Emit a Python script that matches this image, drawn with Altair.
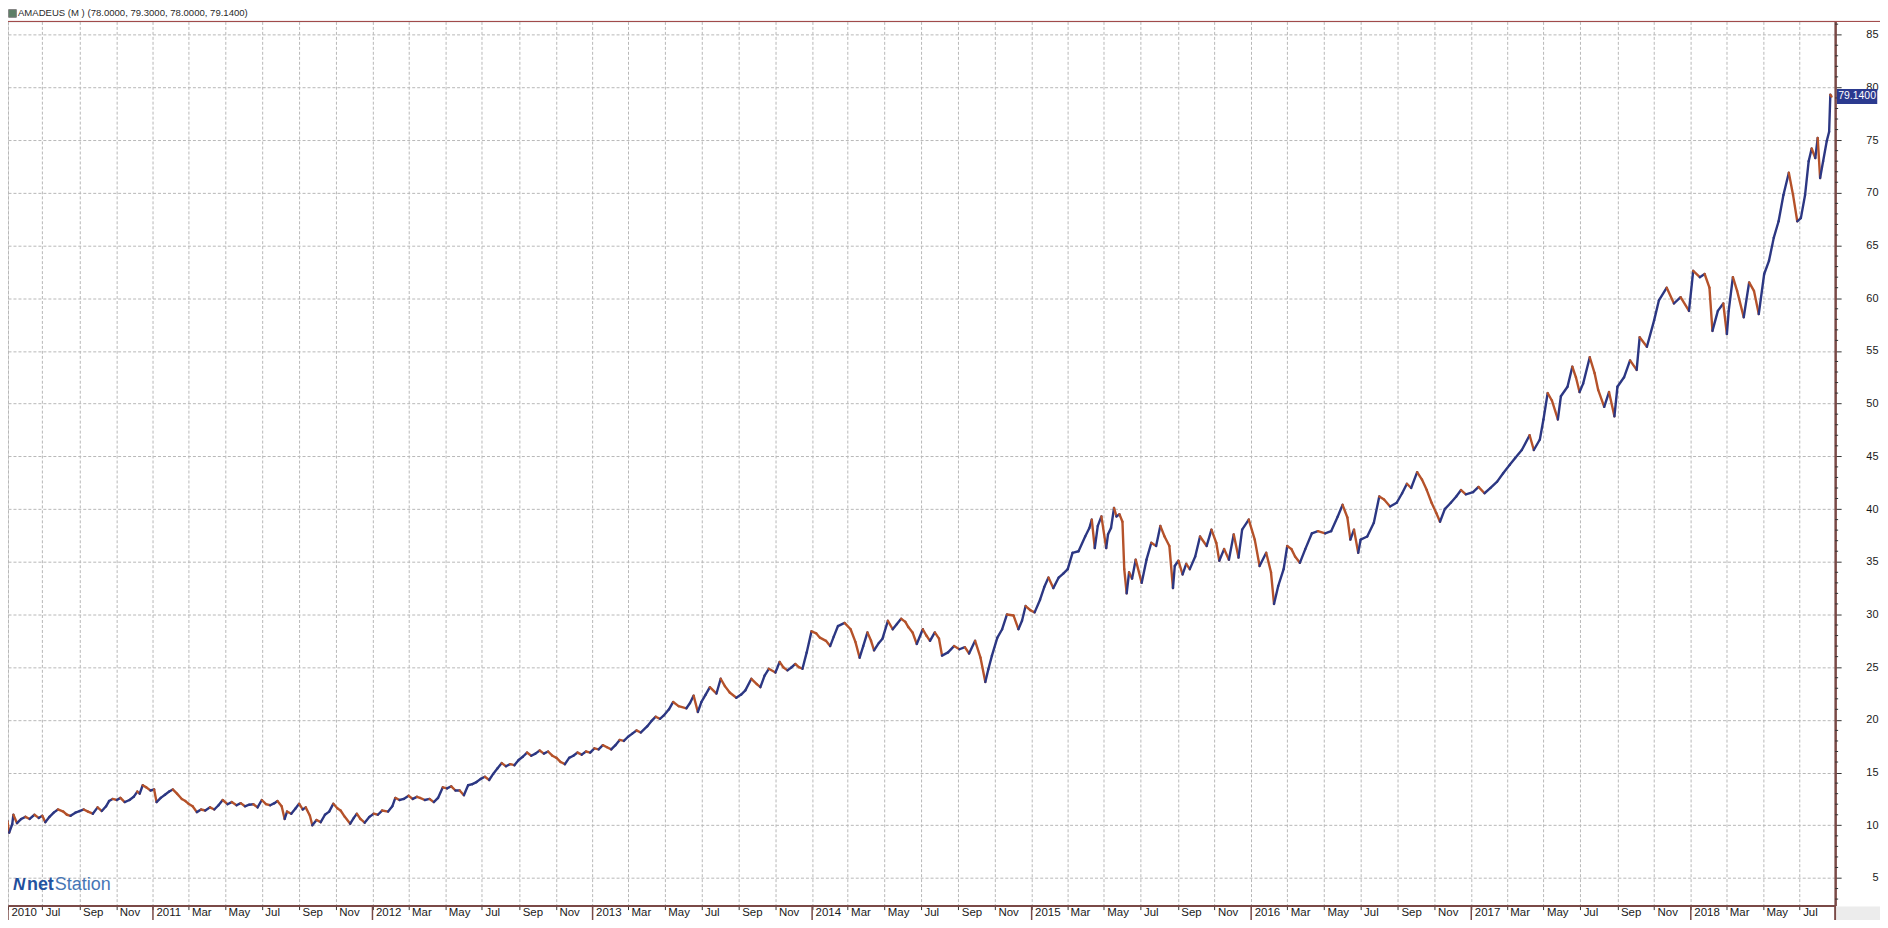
import altair as alt
import pandas as pd

# ---------------- data ----------------
dates = [
    "2010-04-29", "2010-05-04", "2010-05-07", "2010-05-12", "2010-05-14", "2010-05-20", "2010-05-27",
    "2010-06-03", "2010-06-10", "2010-06-18", "2010-06-25", "2010-07-01", "2010-07-06", "2010-07-13",
    "2010-07-20", "2010-07-27", "2010-08-05", "2010-08-11", "2010-08-17", "2010-08-25", "2010-09-01",
    "2010-09-08", "2010-09-15", "2010-09-23", "2010-10-01", "2010-10-08", "2010-10-15", "2010-10-20",
    "2010-10-26", "2010-11-02", "2010-11-08", "2010-11-15", "2010-11-23", "2010-11-30", "2010-12-06",
    "2010-12-10", "2010-12-15", "2010-12-21", "2010-12-28",
    "2011-01-03", "2011-01-07", "2011-01-14", "2011-01-21", "2011-01-28", "2011-02-03", "2011-02-10",
    "2011-02-18", "2011-02-24", "2011-03-01", "2011-03-08", "2011-03-15", "2011-03-22", "2011-03-29",
    "2011-04-06", "2011-04-13", "2011-04-20", "2011-04-27", "2011-05-05", "2011-05-12", "2011-05-20",
    "2011-05-27", "2011-06-03", "2011-06-10", "2011-06-17", "2011-06-24", "2011-07-01", "2011-07-08",
    "2011-07-15", "2011-07-22", "2011-07-27", "2011-08-03", "2011-08-08", "2011-08-12", "2011-08-19",
    "2011-08-26", "2011-09-01", "2011-09-07", "2011-09-12", "2011-09-19", "2011-09-23", "2011-09-30",
    "2011-10-07", "2011-10-14", "2011-10-21", "2011-10-28", "2011-11-04", "2011-11-09", "2011-11-16",
    "2011-11-25", "2011-12-01", "2011-12-06", "2011-12-12", "2011-12-19", "2011-12-27",
    "2012-01-03", "2012-01-10", "2012-01-17", "2012-01-27", "2012-02-03", "2012-02-08", "2012-02-15",
    "2012-02-22", "2012-03-01", "2012-03-08", "2012-03-15", "2012-03-20", "2012-03-28", "2012-04-05",
    "2012-04-12", "2012-04-19", "2012-04-27", "2012-05-04", "2012-05-11", "2012-05-18", "2012-05-25",
    "2012-06-01", "2012-06-08", "2012-06-15", "2012-06-22", "2012-06-29", "2012-07-06", "2012-07-13",
    "2012-07-20", "2012-07-27", "2012-08-03", "2012-08-10", "2012-08-17", "2012-08-24", "2012-08-31",
    "2012-09-07", "2012-09-14", "2012-09-21", "2012-09-28", "2012-10-05", "2012-10-12", "2012-10-19",
    "2012-10-26", "2012-11-02", "2012-11-09", "2012-11-16", "2012-11-23", "2012-11-30", "2012-12-07",
    "2012-12-14", "2012-12-21", "2012-12-28",
    "2013-01-04", "2013-01-11", "2013-01-18", "2013-01-25", "2013-02-01", "2013-02-08", "2013-02-15",
    "2013-02-22", "2013-03-01", "2013-03-08", "2013-03-15", "2013-03-22", "2013-04-02", "2013-04-09",
    "2013-04-16", "2013-04-23", "2013-04-29", "2013-05-08", "2013-05-15", "2013-05-24", "2013-06-06",
    "2013-06-12", "2013-06-18", "2013-06-25", "2013-07-01", "2013-07-08", "2013-07-15", "2013-07-26",
    "2013-08-02", "2013-08-09", "2013-08-17", "2013-08-28", "2013-09-05", "2013-09-12", "2013-09-22",
    "2013-10-01", "2013-10-07", "2013-10-14", "2013-10-21", "2013-11-01", "2013-11-08", "2013-11-14",
    "2013-11-21", "2013-11-28", "2013-12-04", "2013-12-10", "2013-12-16", "2013-12-23", "2013-12-31",
    "2014-01-08", "2014-01-14", "2014-01-24", "2014-01-31", "2014-02-06", "2014-02-13", "2014-02-24",
    "2014-03-06", "2014-03-14", "2014-03-21", "2014-03-27", "2014-04-03", "2014-04-09", "2014-04-14",
    "2014-04-22", "2014-04-28", "2014-05-07", "2014-05-15", "2014-05-22", "2014-05-29", "2014-06-05",
    "2014-06-10", "2014-06-17", "2014-06-24", "2014-07-04", "2014-07-10", "2014-07-16", "2014-07-24",
    "2014-07-31", "2014-08-05", "2014-08-15", "2014-08-25", "2014-09-03", "2014-09-12", "2014-09-19",
    "2014-09-29", "2014-10-08", "2014-10-16", "2014-10-21", "2014-10-27", "2014-11-05", "2014-11-13",
    "2014-11-21", "2014-12-02", "2014-12-10", "2014-12-16", "2014-12-22", "2014-12-30",
    "2015-01-06", "2015-01-15", "2015-01-22", "2015-01-29", "2015-02-06", "2015-02-15", "2015-02-23",
    "2015-03-02", "2015-03-10", "2015-03-20", "2015-03-31", "2015-04-07", "2015-04-11", "2015-04-16",
    "2015-04-21", "2015-04-27", "2015-05-05", "2015-05-08", "2015-05-13", "2015-05-18", "2015-05-22",
    "2015-05-27", "2015-06-01", "2015-06-04", "2015-06-08", "2015-06-12", "2015-06-17", "2015-06-23",
    "2015-07-03", "2015-07-11", "2015-07-19", "2015-07-27", "2015-08-03", "2015-08-10", "2015-08-18",
    "2015-08-24", "2015-08-27", "2015-09-02", "2015-09-09", "2015-09-15", "2015-09-21", "2015-09-30",
    "2015-10-08", "2015-10-19", "2015-10-27", "2015-11-04", "2015-11-09", "2015-11-17", "2015-11-25",
    "2015-12-03", "2015-12-11", "2015-12-17", "2015-12-28",
    "2016-01-07", "2016-01-15", "2016-01-26", "2016-02-03", "2016-02-08", "2016-02-15", "2016-02-24",
    "2016-03-01", "2016-03-08", "2016-03-14", "2016-03-22", "2016-03-31", "2016-04-11", "2016-04-21",
    "2016-05-03", "2016-05-13", "2016-05-24", "2016-06-01", "2016-06-09", "2016-06-14", "2016-06-20",
    "2016-06-27", "2016-07-01", "2016-07-12", "2016-07-23", "2016-08-01", "2016-08-09", "2016-08-19",
    "2016-08-30", "2016-09-08", "2016-09-16", "2016-09-23", "2016-10-03", "2016-10-11", "2016-10-19",
    "2016-10-27", "2016-11-04", "2016-11-10", "2016-11-18", "2016-11-28", "2016-12-07", "2016-12-15",
    "2016-12-23",
    "2017-01-04", "2017-01-13", "2017-01-23", "2017-02-02", "2017-02-13", "2017-02-23", "2017-03-06",
    "2017-03-15", "2017-03-26", "2017-04-08", "2017-04-15", "2017-04-25", "2017-05-01", "2017-05-08",
    "2017-05-15", "2017-05-25", "2017-05-30", "2017-06-10", "2017-06-18", "2017-06-24", "2017-06-30",
    "2017-07-06", "2017-07-17", "2017-07-25", "2017-07-31", "2017-08-10", "2017-08-18", "2017-08-27",
    "2017-09-01", "2017-09-12", "2017-09-22", "2017-10-03", "2017-10-08", "2017-10-20", "2017-11-01",
    "2017-11-09", "2017-11-22", "2017-12-04", "2017-12-15", "2017-12-29",
    "2018-01-05", "2018-01-16", "2018-01-24", "2018-02-01", "2018-02-06", "2018-02-15", "2018-02-24",
    "2018-03-02", "2018-03-05", "2018-03-12", "2018-03-19", "2018-03-30", "2018-04-08", "2018-04-16",
    "2018-04-24", "2018-05-03", "2018-05-11", "2018-05-19", "2018-05-27", "2018-06-04", "2018-06-13",
    "2018-06-20", "2018-06-27", "2018-07-03", "2018-07-10", "2018-07-16", "2018-07-21", "2018-07-27",
    "2018-07-31", "2018-08-04", "2018-08-09", "2018-08-15", "2018-08-19", "2018-08-21", "2018-08-23",
]

closes = [
    10.2, 10.4, 9.3, 10.1, 11.0, 10.2, 10.6,
    10.8, 10.6, 11.0, 10.7, 10.9, 10.3, 10.8,
    11.2, 11.5, 11.3, 11.0, 10.9, 11.2, 11.35,
    11.5, 11.3, 11.1, 11.7, 11.35, 11.8, 12.3,
    12.5, 12.4, 12.6, 12.2, 12.4, 12.7, 13.2,
    13.0, 13.8, 13.6, 13.3,
    13.4, 12.2, 12.6, 12.9, 13.2, 13.4, 13.0,
    12.5, 12.3, 12.05, 11.8, 11.25, 11.5, 11.4,
    11.7, 11.5, 11.9, 12.4, 12.0, 12.2, 11.9,
    12.1, 11.8, 11.95, 12.0, 11.7, 12.4, 12.0,
    11.9, 12.1, 12.3, 11.8, 10.6, 11.3, 11.1,
    11.6, 12.05, 11.5, 11.7, 10.9, 10.0, 10.5,
    10.3, 11.0, 11.3, 12.05, 11.6, 11.4, 10.8,
    10.15, 10.7, 11.1, 10.6, 10.25, 10.8,
    11.1, 11.0, 11.4, 11.3, 11.8, 12.6, 12.4,
    12.5, 12.8, 12.5, 12.7, 12.6, 12.4, 12.5,
    12.2, 12.6, 13.6, 13.5, 13.7, 13.3, 13.3,
    12.85, 13.8, 13.9, 14.1, 14.4, 14.6, 14.3,
    14.9, 15.4, 15.9, 15.6, 15.8, 15.7, 16.2,
    16.5, 16.9, 16.6, 16.8, 17.1, 16.8, 17.0,
    16.6, 16.4, 16.0, 15.8, 16.4, 16.6, 16.9,
    16.7, 17.0, 16.9,
    17.3, 17.2, 17.6, 17.4, 17.2, 17.6, 18.1,
    18.0, 18.4, 18.7, 19.0, 18.8, 19.4, 19.9,
    20.3, 20.1, 20.4, 21.0, 21.7, 21.3, 21.1,
    21.6, 22.3, 20.75, 21.7, 22.4, 23.1, 22.5,
    23.9, 23.2, 22.6, 22.1, 22.4, 22.8, 23.9,
    23.4, 23.1, 24.2, 24.85, 24.5, 25.5, 25.0,
    24.7, 25.0, 25.3, 25.0, 24.85, 26.4, 28.4,
    28.2, 27.8, 27.5, 27.0, 27.9, 28.9, 29.2,
    28.6, 27.4, 25.9, 27.0, 28.3, 27.5, 26.6,
    27.3, 27.7, 29.4, 28.6, 29.1, 29.6, 29.3,
    28.8, 28.3, 27.2, 28.6, 28.0, 27.5, 28.3,
    27.7, 26.1, 26.4, 27.0, 26.7, 26.9, 26.3,
    27.5, 25.9, 23.6, 24.8, 26.1, 27.8, 28.6,
    30.0, 29.9, 28.6, 29.4, 30.8, 30.4,
    30.2, 31.4, 32.6, 33.5, 32.5, 33.5, 33.9,
    34.3, 35.85, 36.0, 37.4, 38.2, 39.0, 36.3,
    38.4, 39.3, 36.3, 37.6, 38.2, 40.1, 39.3,
    39.5, 38.8, 34.3, 32.0, 34.0, 33.4, 35.2,
    33.0, 35.2, 36.8, 36.5, 38.4, 37.4, 36.5,
    32.5, 34.6, 35.1, 33.8, 34.8, 34.3, 35.5,
    37.4, 36.5, 38.05, 36.8, 35.1, 36.2, 35.2,
    37.6, 35.4, 38.05, 39.0,
    37.1, 34.6, 35.85, 34.0, 31.0, 32.7, 34.3,
    36.5, 36.2, 35.5, 34.9, 36.2, 37.7, 37.9,
    37.7, 37.9, 39.3, 40.4, 39.2, 37.1, 38.05,
    35.85, 37.1, 37.4, 38.7, 41.2, 40.9, 40.25,
    40.6, 41.5, 42.4, 42.0, 43.5, 42.8, 41.8,
    40.6, 39.6, 38.8, 40.0, 40.6, 41.2, 41.8,
    41.4,
    41.6, 42.1, 41.5, 42.0, 42.6, 43.4, 44.2,
    44.85, 45.6, 47.0, 45.6, 46.6, 48.5, 51.0,
    50.3, 48.5, 50.7, 51.6, 53.5, 52.5, 51.1,
    51.9, 54.4, 52.9, 51.3, 49.7, 51.1, 48.8,
    51.6, 52.5, 54.1, 53.2, 56.3, 55.4, 57.9,
    59.8, 61.0, 59.5, 60.1, 58.8,
    62.6, 62.0, 62.3, 61.0, 56.9, 58.8, 59.5,
    56.6, 58.8, 62.0, 60.7, 58.2, 61.5, 60.7,
    58.5, 62.3, 63.55, 65.75, 67.3, 69.8, 71.9,
    69.8, 67.3, 67.6, 69.8, 73.0, 74.2, 73.3,
    75.2, 71.4, 73.0, 74.9, 75.8, 79.3, 79.14,
]

y_major_ticks = list(range(5, 86, 5))
y_minor_ticks = [v for v in range(3, 87) if v % 5 != 0]
x_tick_months = [1, 3, 5, 7, 9, 11]
year_starts = ["2011-01-01", "2012-01-01", "2013-01-01", "2014-01-01",
               "2015-01-01", "2016-01-01", "2017-01-01", "2018-01-01"]

title_text = "AMADEUS (M ) (78.0000, 79.3000, 78.0000, 79.1400)"
last_label = "79.1400"

# ---------------- layout / style ----------------
W, H = 1833, 887
PX_PER_UNIT = 10.575
Y_TOP = 86.26
BROWN = "#7a4a47"
GRID = "#b8b8b8"
BLUE = "#2c3783"
ORANGE = "#b5522a"
FONT = "Liberation Sans"

domain_start = "2010-05-05"
domain_end = "2018-08-29"

df = pd.DataFrame({"date": dates, "close": closes})
df["prev_date"] = df["date"].shift(1)
df["prev_close"] = df["close"].shift(1)
df = df.dropna().reset_index(drop=True)
df["dir"] = ["up" if c >= p else "down" for c, p in zip(df["close"], df["prev_close"])]


def dt(s):
    t = pd.Timestamp(s)
    return alt.DateTime(year=t.year, month=t.month, date=t.day, utc=True)


start_ms = int(pd.Timestamp(domain_start, tz="UTC").value // 10**6)

x_ticks = [dt(domain_start)]
for yr in range(2010, 2019):
    for m in x_tick_months:
        if (yr, m) >= (2010, 7) and (yr, m) <= (2018, 7):
            x_ticks.append(dt(f"{yr}-{m:02d}-01"))

label_expr = (
    f"(utcmonth(datum.value) === 0 || datum.value < {start_ms + 86400000}) "
    "? utcFormat(datum.value, '%Y') : utcFormat(datum.value, '%b')"
)

xscale = alt.Scale(type="utc", domain=[dt(domain_start), dt(domain_end)])
yscale = alt.Scale(domain=[Y_TOP - H / PX_PER_UNIT, Y_TOP], nice=False, zero=False)

xaxis = alt.Axis(
    values=x_ticks, labelExpr=label_expr, title=None, orient="bottom",
    labelAlign="left", labelBaseline="middle", labelOffset=3, labelPadding=3,
    tickSize=4, tickColor="#333333", tickWidth=1,
    domainColor=BROWN, domainWidth=2,
    grid=True, gridColor=GRID, gridDash=[3, 2], gridWidth=1,
    labelFont=FONT, labelFontSize=11.5, labelColor="#1a1a1a",
    labelOverlap=False, labelFlush=False,
)
yaxis = alt.Axis(
    values=y_major_ticks, title=None, orient="right", format="d",
    labelAlign="right", labelBaseline="middle", tickSize=6, labelPadding=37,
    tickColor="#333333", tickWidth=1,
    domainColor=BROWN, domainWidth=2.5,
    grid=True, gridColor=GRID, gridDash=[3, 2], gridWidth=1,
    labelFont=FONT, labelFontSize=11, labelColor="#1a1a1a",
    labelOverlap=False, labelFlush=False,
)

price = alt.Chart(df).mark_rule(strokeWidth=2.4, clip=True, strokeCap="round").encode(
    x=alt.X("prev_date:T", scale=xscale, axis=xaxis),
    x2="date:T",
    y=alt.Y("prev_close:Q", scale=yscale, axis=yaxis),
    y2="close:Q",
    color=alt.Color("dir:N", scale=alt.Scale(domain=["up", "down"], range=[BLUE, ORANGE]), legend=None),
)

one = alt.Data(values=[{}])

# year separators in the label strip
seps = alt.Chart(pd.DataFrame({"prev_date": [domain_start] + year_starts})).mark_rule(
    color=BROWN, strokeWidth=1.5
).encode(x=alt.X("prev_date:T", scale=xscale, axis=xaxis), y=alt.value(H), y2=alt.value(H + 20))

# minor ticks on the right axis
minor = alt.Chart(pd.DataFrame({"prev_close": y_minor_ticks})).mark_rule(
    color="#333333", strokeWidth=1
).encode(y=alt.Y("prev_close:Q", scale=yscale, axis=yaxis), x=alt.value(W), x2=alt.value(W + 3))

# frame pieces
top_line = alt.Chart(one).mark_rule(color="#9a3b3b", strokeWidth=1).encode(
    y=alt.value(0), x=alt.value(0), x2=alt.value(W + 45)
)
corner = alt.Chart(one).mark_rect(color="#ececec").encode(
    x=alt.value(W + 1.5), x2=alt.value(W + 45), y=alt.value(H + 1), y2=alt.value(H + 16)
)
corner_line = alt.Chart(one).mark_rule(color=BROWN, strokeWidth=2).encode(
    x=alt.value(W), y=alt.value(H), y2=alt.value(H + 16)
)

# last price tag
tag_df = pd.DataFrame({"prev_close": [closes[-1]], "t": [last_label]})
tag_box = alt.Chart(tag_df).mark_point(
    shape="M-1,-0.375L1,-0.375L1,0.375L-1,0.375Z", size=1640, filled=True,
    opacity=1, color="#2b3a8f", strokeWidth=0
).encode(y=alt.Y("prev_close:Q", scale=yscale, axis=yaxis), x=alt.value(W + 22))
tag_text = alt.Chart(tag_df).mark_text(
    color="white", fontSize=10.5, font=FONT, align="center", baseline="middle"
).encode(y=alt.Y("prev_close:Q", scale=yscale, axis=yaxis), x=alt.value(W + 22), text="t:N")

# title bar
title_icon = alt.Chart(one).mark_point(
    shape="square", size=60, filled=True, opacity=1, color="#5d7f66",
    stroke="#808080", strokeWidth=1
).encode(x=alt.value(4.5), y=alt.value(-8))
title = alt.Chart(one).mark_text(
    align="left", baseline="middle", fontSize=9.6, font=FONT, color="#2a2a2a"
).encode(x=alt.value(10), y=alt.value(-8), text=alt.value(title_text))

# watermark logo
LOGO_Y = 866
logo_n = alt.Chart(one).mark_text(
    align="left", baseline="middle", fontSize=17, font=FONT, fontWeight="bold",
    fontStyle="italic", color="#1f4e9c"
).encode(x=alt.value(5), y=alt.value(LOGO_Y), text=alt.value("N"))
logo_net = alt.Chart(one).mark_text(
    align="left", baseline="middle", fontSize=18, font=FONT, fontWeight="bold", color="#24539f"
).encode(x=alt.value(19), y=alt.value(LOGO_Y), text=alt.value("net"))
logo_station = alt.Chart(one).mark_text(
    align="left", baseline="middle", fontSize=18, font=FONT, color="#4676b6"
).encode(x=alt.value(47), y=alt.value(LOGO_Y), text=alt.value("Station"))

chart = alt.layer(
    price, seps, minor, top_line, corner, corner_line,
    tag_box, tag_text, title_icon, title, logo_n, logo_net, logo_station,
).properties(
    width=W, height=H,
    autosize=alt.AutoSizeParams(type="none"),
    padding={"left": 0, "top": 12, "right": 45, "bottom": 13},
    background="white",
).configure_view(stroke=None).configure(font=FONT)

chart.save("out.html", embed_options={"renderer": "svg", "actions": False})
